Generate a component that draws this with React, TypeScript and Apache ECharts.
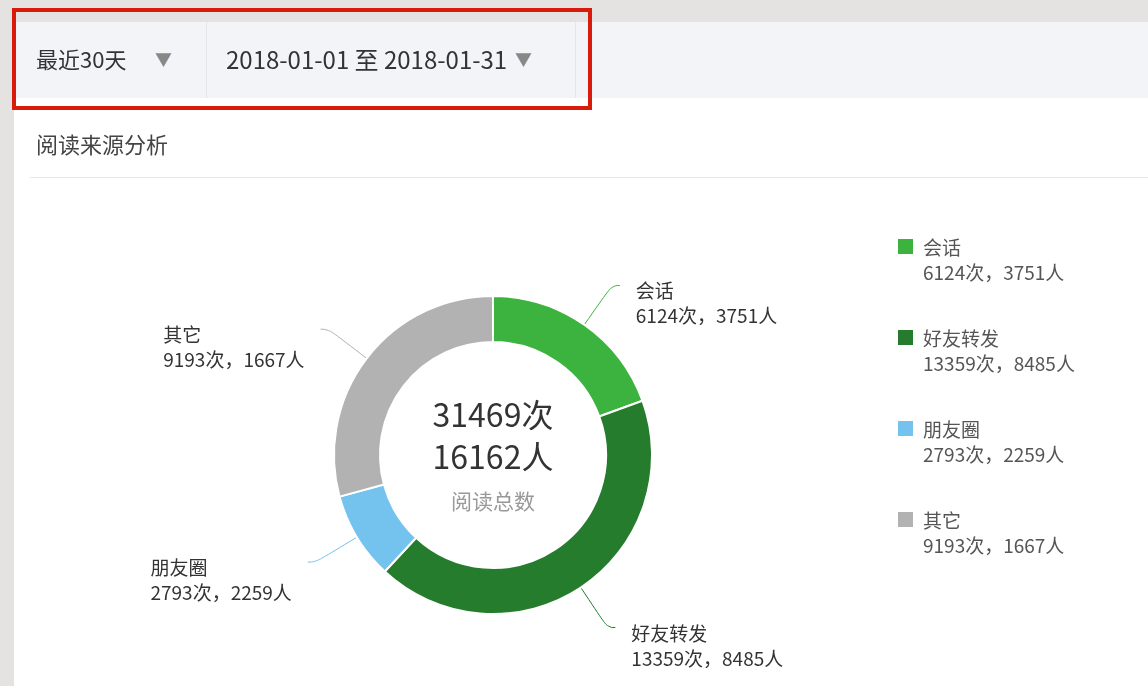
import React, { useEffect, useRef } from "react";
import * as echarts from "echarts";

const categories = ["会话", "好友转发", "朋友圈", "其它"];
const visits = [6124, 13359, 2793, 9193];
const people = [3751, 8485, 2259, 1667];
const colors = ["#3cb33f", "#257c2d", "#73c3ee", "#b2b2b2"];
const rangeLabel = "最近30天";
const dateLabel = "2018-01-01 至 2018-01-31";
const panelTitle = "阅读来源分析";
const centerCaption = "阅读总数";

const FONT = '"Noto Sans CJK SC", "Microsoft YaHei", sans-serif';

export default function App() {
  const ref = useRef<HTMLDivElement>(null);
  useEffect(() => {
    if (!ref.current) return;
    const chart = echarts.init(ref.current, undefined, { renderer: "svg" });
    const totalVisits = visits.reduce((a, b) => a + b, 0);
    const totalPeople = people.reduce((a, b) => a + b, 0);
    const idx = (name: string) => categories.indexOf(name);
    const line = (i: number) => `${visits[i]}次，${people[i]}人`;
    const labelRich = {
      n: { fontSize: 19, lineHeight: 25, color: "#333", align: "left", fontFamily: FONT },
      v: { fontSize: 19, lineHeight: 25, color: "#333", align: "left", fontFamily: FONT },
    };
    const legendRich = {
      n: { fontSize: 19, lineHeight: 25, color: "#555", align: "left", fontFamily: FONT },
      v: { fontSize: 19, lineHeight: 25, color: "#555", align: "left", fontFamily: FONT },
    };
    chart.setOption({
      animation: false,
      textStyle: { fontFamily: FONT },
      graphic: [
        { type: "rect", z: -10, shape: { x: 0, y: 0, width: 1148, height: 686 }, style: { fill: "#e4e3e1" } },
        { type: "rect", z: -9, shape: { x: 14, y: 22, width: 1134, height: 664 }, style: { fill: "#ffffff" } },
        { type: "rect", z: -8, shape: { x: 14, y: 22, width: 1134, height: 76 }, style: { fill: "#f3f4f7" } },
        { type: "line", z: -7, shape: { x1: 206.5, y1: 22, x2: 206.5, y2: 98 }, style: { stroke: "#e4e5e9", lineWidth: 1 } },
        { type: "line", z: -7, shape: { x1: 575.5, y1: 22, x2: 575.5, y2: 98 }, style: { stroke: "#e4e5e9", lineWidth: 1 } },
        { type: "text", z: 5, style: { text: rangeLabel, x: 36, y: 58, fill: "#333", font: `22px ${FONT}`, textVerticalAlign: "middle" } },
        { type: "text", z: 5, style: { text: "▼", x: 155, y: 58, fill: "#888", font: `17px ${FONT}`, textVerticalAlign: "middle" } },
        { type: "text", z: 5, style: { text: dateLabel, x: 226, y: 58, fill: "#333", font: `24px ${FONT}`, textVerticalAlign: "middle" } },
        { type: "text", z: 5, style: { text: "▼", x: 515, y: 58, fill: "#888", font: `17px ${FONT}`, textVerticalAlign: "middle" } },
        { type: "rect", z: 10, shape: { x: 14, y: 10, width: 576, height: 98 }, style: { fill: "none", stroke: "#d91b0b", lineWidth: 4 } },
        { type: "text", z: 5, style: { text: panelTitle, x: 36, y: 143, fill: "#444", font: `22px ${FONT}`, textVerticalAlign: "middle" } },
        { type: "line", z: -7, shape: { x1: 30, y1: 177.5, x2: 1148, y2: 177.5 }, style: { stroke: "#e8e8e8", lineWidth: 1 } },
        { type: "text", z: 5, style: { text: `${totalVisits}次`, x: 493, y: 413, fill: "#333", font: `32px ${FONT}`, textAlign: "center", textVerticalAlign: "middle" } },
        { type: "text", z: 5, style: { text: `${totalPeople}人`, x: 493, y: 455, fill: "#333", font: `32px ${FONT}`, textAlign: "center", textVerticalAlign: "middle" } },
        { type: "text", z: 5, style: { text: centerCaption, x: 493, y: 500, fill: "#999", font: `21px ${FONT}`, textAlign: "center", textVerticalAlign: "middle" } },
      ],
      legend: {
        orient: "vertical",
        left: 896,
        top: 209,
        padding: 0,
        itemWidth: 17,
        itemHeight: 17,
        itemGap: 16,
        icon: "rect",
        selectedMode: false,
        data: categories,
        formatter: (name: string) => `{n|${name}}\n{v|${line(idx(name))}}`,
        textStyle: {
          color: "#555",
          fontSize: 19,
          lineHeight: 25,
          fontFamily: FONT,
          padding: [25, 0, 0, 4],
          rich: legendRich,
        },
      },
      series: [
        {
          type: "pie",
          center: [493, 455],
          radius: [113, 159],
          startAngle: 90,
          clockwise: true,
          avoidLabelOverlap: false,
          color: colors,
          itemStyle: { borderColor: "#fff", borderWidth: 2 },
          emphasis: { scale: false },
          label: {
            show: true,
            position: "outside",
            distanceToLabelLine: 16,
            color: "#333",
            fontSize: 19,
            lineHeight: 25,
            fontFamily: FONT,
            padding: [34, 0, 0, 0],
            formatter: (p: any) => `{n|${p.name}}\n{v|${line(p.dataIndex)}}`,
            rich: labelRich,
          },
          labelLine: { show: true, length: 48, length2: 8, smooth: 0.5, lineStyle: { width: 1 } },
          data: categories.map((name, i) => ({ name, value: visits[i] })),
        },
      ],
    });
    return () => chart.dispose();
  }, []);
  return <div ref={ref} style={{ position: "fixed", left: 0, top: 0, width: 1148, height: 686 }} />;
}
